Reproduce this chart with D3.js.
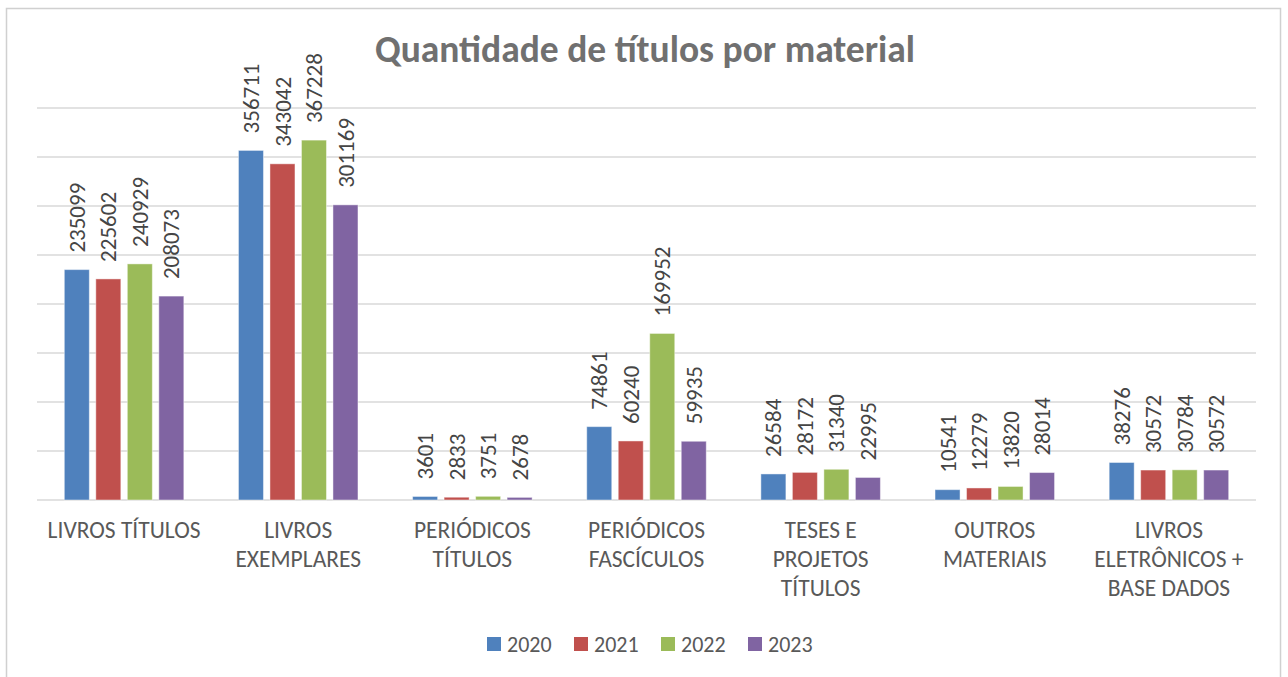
<!DOCTYPE html>
<html>
<head>
<meta charset="utf-8">
<script src="https://cdn.jsdelivr.net/npm/d3@7"></script>
<style>
  html, body { margin: 0; padding: 0; background: #fff; }
  svg { display: block; }
  text { font-family: Calibri, Carlito, Lato, "Open Sans", sans-serif; }
</style>
</head>
<body>
<svg id="chart" width="1288" height="677"></svg>
<script>
const title = "Quantidade de títulos por material";
const categories = [
  "LIVROS TÍTULOS", "LIVROS EXEMPLARES", "PERIÓDICOS TÍTULOS", "PERIÓDICOS FASCÍCULOS",
  "TESES E PROJETOS TÍTULOS", "OUTROS MATERIAIS", "LIVROS ELETRÔNICOS + BASE DADOS"
];
const categoryLines = [
  ["LIVROS TÍTULOS"],
  ["LIVROS", "EXEMPLARES"],
  ["PERIÓDICOS", "TÍTULOS"],
  ["PERIÓDICOS", "FASCÍCULOS"],
  ["TESES E", "PROJETOS", "TÍTULOS"],
  ["OUTROS", "MATERIAIS"],
  ["LIVROS", "ELETRÔNICOS +", "BASE DADOS"]
];
const years = ["2020", "2021", "2022", "2023"];
const values2020 = [235099, 356711, 3601, 74861, 26584, 10541, 38276];
const values2021 = [225602, 343042, 2833, 60240, 28172, 12279, 30572];
const values2022 = [240929, 367228, 3751, 169952, 31340, 13820, 30784];
const values2023 = [208073, 301169, 2678, 59935, 22995, 28014, 30572];
const yTicks = [0, 50000, 100000, 150000, 200000, 250000, 300000, 350000, 400000];
const colors = ["#4F81BD", "#C0504D", "#9BBB59", "#8064A2"];

const series = [values2020, values2021, values2022, values2023];

const svg = d3.select("#chart");

// chart border
svg.append("rect")
  .attr("x", 6.5).attr("y", 8.5).attr("width", 1274).attr("height", 680)
  .attr("fill", "#fff").attr("stroke", "#D0D0D0").attr("stroke-width", 1.5);

const plot = { left: 37, right: 1256, top: 108, bottom: 500 };

const x0 = d3.scaleBand().domain(categories)
  .range([plot.left, plot.right]).paddingInner(0.2764).paddingOuter(0.1382);
const x1 = d3.scaleBand().domain(years)
  .range([0, x0.bandwidth()]).paddingInner(0.206).paddingOuter(0.103);
const y = d3.scaleLinear().domain([0, 400000]).range([plot.bottom, plot.top]);
const color = d3.scaleOrdinal().domain(years).range(colors);

// gridlines
svg.append("g").selectAll("line").data(yTicks).join("line")
  .attr("x1", plot.left).attr("x2", plot.right)
  .attr("y1", d => y(d)).attr("y2", d => y(d))
  .attr("stroke", "#D9D9D9").attr("stroke-width", 1.5);

// title
svg.append("text")
  .attr("x", 645).attr("y", 62)
  .attr("text-anchor", "middle")
  .attr("font-size", 37.5).attr("font-weight", "bold")
  .attr("fill", "#707070")
  .text(title);

// bars
const groups = svg.append("g").selectAll("g").data(categories).join("g")
  .attr("transform", d => `translate(${x0(d)},0)`);

const barData = (c, i) => years.map((yr, s) => ({ year: yr, value: series[s][i] }));

groups.selectAll("rect").data(barData).join("rect")
  .attr("x", d => x1(d.year))
  .attr("y", d => y(d.value))
  .attr("width", x1.bandwidth())
  .attr("height", d => y(0) - y(d.value))
  .attr("fill", d => color(d.year))
  .attr("stroke", "rgba(255,255,255,0.45)").attr("stroke-width", 1);

// data labels
groups.selectAll("text.lbl").data(barData).join("text")
  .attr("class", "lbl")
  .attr("transform", d => `translate(${x1(d.year) + x1.bandwidth() / 2},${y(d.value) - 17}) rotate(-90)`)
  .attr("dy", "0.35em")
  .attr("text-anchor", "start")
  .attr("font-size", 23)
  .attr("fill", "#454545")
  .text(d => d.value);

// category labels
svg.append("g").selectAll("text").data(categories).join("text")
  .attr("x", d => x0(d) + x0.bandwidth() / 2)
  .attr("y", 538)
  .attr("text-anchor", "middle")
  .attr("font-size", 23.5)
  .attr("fill", "#595959")
  .each(function(d, i) {
    d3.select(this).selectAll("tspan").data(categoryLines[i]).join("tspan")
      .attr("x", x0(d) + x0.bandwidth() / 2)
      .attr("dy", (l, k) => k === 0 ? 0 : 29)
      .text(l => l);
  });

// legend
const legend = svg.append("g").selectAll("g").data(years).join("g")
  .attr("transform", (d, i) => `translate(${487 + i * 87},637)`);
legend.append("rect").attr("width", 14).attr("height", 14).attr("fill", d => color(d));
legend.append("text").attr("x", 20).attr("y", 14.5)
  .attr("font-size", 22).attr("fill", "#595959").text(d => d);
</script>
</body>
</html>
